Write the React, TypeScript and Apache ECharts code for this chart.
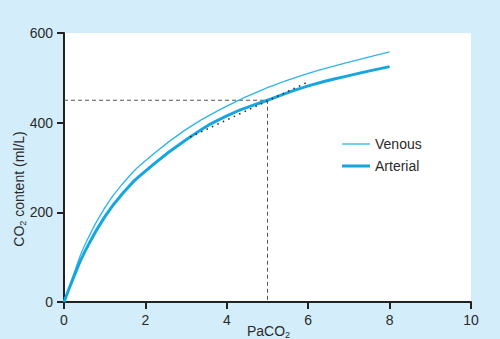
import React, { useEffect, useRef } from "react";
import * as echarts from "echarts";

const xTicks = [0, 2, 4, 6, 8, 10];
const yTicks = [0, 200, 400, 600];

const venousX = [0, 0.25, 0.5, 1, 1.5, 2, 3, 4, 5, 6, 7, 8];
const venousY = [0, 65, 125, 210, 270, 315, 385, 437, 478, 510, 535, 558];

const arterialX = [0, 0.25, 0.5, 1, 1.5, 2, 3, 4, 5, 6, 7, 8];
const arterialY = [0, 58, 110, 190, 248, 292, 362, 415, 450, 482, 505, 525];

const guideX = [0, 5, 5];
const guideY = [450, 450, 0];

const tangentX = [3.1, 6];
const tangentY = [368, 491];

const legendNames = ["Venous", "Arterial"];
const venousColor = "#2bb5ea";
const arterialColor = "#14a6e1";

const zip = (xs: number[], ys: number[]) => xs.map((x, i) => [x, ys[i]]);

export default function App() {
  const ref = useRef<HTMLDivElement>(null);

  useEffect(() => {
    if (!ref.current) return;
    const chart = echarts.init(ref.current, null, { renderer: "svg" });
    const axisColor = "#222";
    const textColor = "#2a2a2a";
    const font = "'Liberation Sans', Arial, sans-serif";
    const fs = 14;
    const legendItems = [
      { name: legendNames[0], color: venousColor, width: 1.3, y: 144 },
      { name: legendNames[1], color: arterialColor, width: 3, y: 166 },
    ];
    const legendGraphics: any[] = [];
    legendItems.forEach((it) => {
      legendGraphics.push({
        type: "line",
        shape: { x1: 342, y1: it.y, x2: 370, y2: it.y },
        style: { stroke: it.color, lineWidth: it.width },
      });
      legendGraphics.push({
        type: "text",
        x: 375,
        y: it.y,
        style: {
          text: it.name,
          fontSize: fs,
          fontFamily: font,
          fill: textColor,
          align: "left",
          verticalAlign: "middle",
        },
      });
    });
    chart.setOption({
      animation: false,
      backgroundColor: "#d3eefa",
      textStyle: { fontFamily: font },
      grid: {
        left: 64,
        top: 33,
        right: 29,
        bottom: 37,
        show: true,
        backgroundColor: "#ffffff",
        borderWidth: 0,
      },
      xAxis: {
        type: "value",
        min: xTicks[0],
        max: xTicks[xTicks.length - 1],
        interval: 2,
        splitLine: { show: false },
        axisLine: { lineStyle: { color: axisColor, width: 2 } },
        axisTick: { show: true, length: 7, lineStyle: { color: axisColor, width: 2 } },
        axisLabel: { fontSize: fs, color: textColor, margin: 11, fontFamily: font },
      },
      yAxis: {
        type: "value",
        min: yTicks[0],
        max: yTicks[yTicks.length - 1],
        interval: 200,
        splitLine: { show: false },
        axisLine: { show: true, lineStyle: { color: axisColor, width: 2 } },
        axisTick: { show: true, length: 7, lineStyle: { color: axisColor, width: 2 } },
        axisLabel: { fontSize: fs, color: textColor, margin: 11, fontFamily: font },
      },
      graphic: [
        {
          type: "text",
          x: 19,
          y: 189,
          rotation: Math.PI / 2,
          style: {
            text: "CO{s|2} content (ml/L)",
            fontSize: fs,
            fontFamily: font,
            fill: textColor,
            align: "center",
            verticalAlign: "middle",
            rich: {
              s: { fontSize: 9, verticalAlign: "bottom", lineHeight: 17, fill: textColor, fontFamily: font },
            },
          },
        },
        {
          type: "text",
          x: 247,
          y: 331,
          style: {
            text: "PaCO{s|2}",
            fontSize: fs,
            fontFamily: font,
            fill: textColor,
            align: "left",
            verticalAlign: "middle",
            rich: {
              s: { fontSize: 9, verticalAlign: "bottom", lineHeight: 17, fill: textColor, fontFamily: font },
            },
          },
        },
        ...legendGraphics,
      ],
      series: [
        {
          name: "guide",
          type: "line",
          data: zip(guideX, guideY),
          symbol: "none",
          silent: true,
          lineStyle: { color: "#555", width: 1, type: [4, 3] },
          z: 1,
        },
        {
          name: "tangent",
          type: "line",
          data: zip(tangentX, tangentY),
          symbol: "none",
          silent: true,
          lineStyle: { color: "#222", width: 1.5, type: [1.5, 4.5] },
          z: 3,
        },
        {
          name: legendNames[0],
          type: "line",
          data: zip(venousX, venousY),
          smooth: true,
          symbol: "none",
          lineStyle: { color: venousColor, width: 1.3 },
          itemStyle: { color: venousColor },
          z: 2,
        },
        {
          name: legendNames[1],
          type: "line",
          data: zip(arterialX, arterialY),
          smooth: true,
          symbol: "none",
          lineStyle: { color: arterialColor, width: 3 },
          itemStyle: { color: arterialColor },
          z: 2,
        },
      ],
    });
    return () => chart.dispose();
  }, []);

  return (
    <div
      ref={ref}
      style={{ position: "fixed", left: 0, top: 0, width: 500, height: 339 }}
    />
  );
}
